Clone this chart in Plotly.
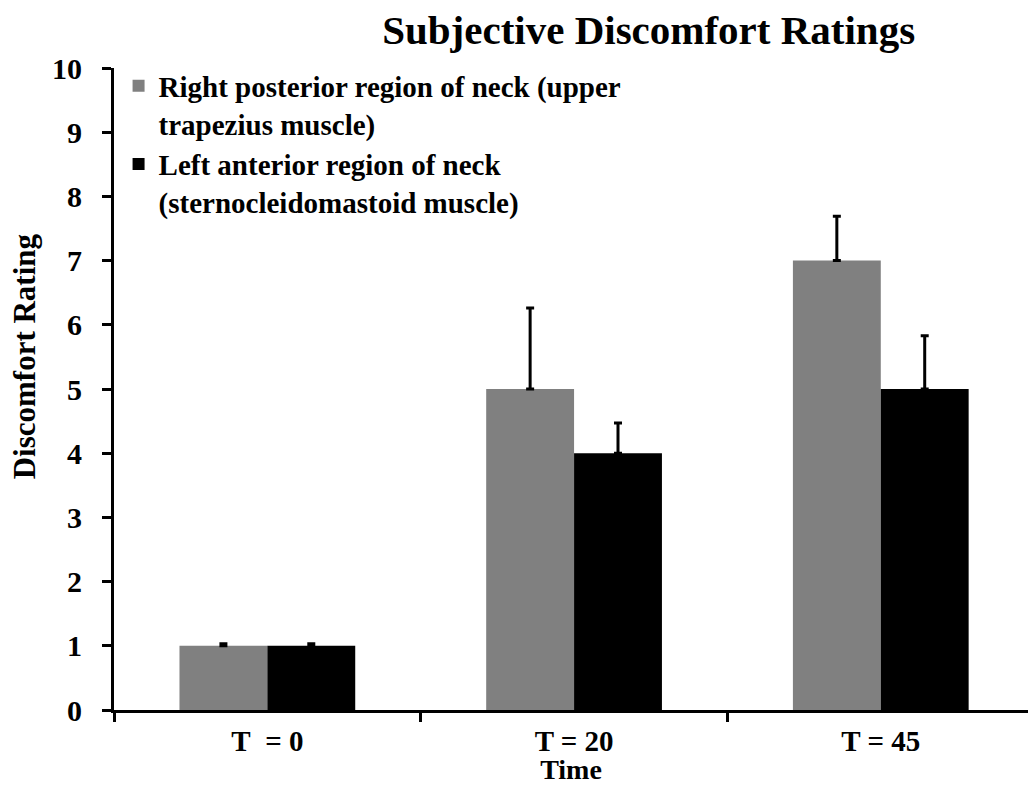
import plotly.graph_objects as go

categories = ["T\u00a0 = 0", "T = 20", "T = 45"]
series_names = [
    "Right posterior region of neck (upper<br>trapezius muscle)",
    "Left anterior region of neck<br>(sternocleidomastoid muscle)",
]
right_posterior = [1, 5, 7]
left_anterior = [1, 4, 5]
err_right = [0.03, 1.26, 0.69]
err_left = [0.03, 0.47, 0.83]

FONT = "Liberation Serif, Times New Roman, serif"

fig = go.Figure()
for name, vals, errs, color in [
    (series_names[0], right_posterior, err_right, "#808080"),
    (series_names[1], left_anterior, err_left, "#000000"),
]:
    fig.add_trace(go.Bar(
        x=categories, y=vals, name=name,
        marker=dict(color=color, line=dict(width=0)),
        error_y=dict(type="data", array=errs, arrayminus=[0] * len(errs),
                     symmetric=False, color="#000000", thickness=3, width=4),
    ))

fig.update_layout(
    width=1028, height=785,
    margin=dict(l=114, r=0, t=68, b=75),
    paper_bgcolor="white", plot_bgcolor="white",
    barmode="group", bargap=0.427, bargroupgap=0,
    font=dict(family=FONT, size=30, color="black", weight=700),
    title=dict(text="Subjective Discomfort Ratings", x=0.631, xanchor="center",
               y=1 - 30 / 785, yanchor="middle",
               font=dict(family=FONT, size=41, weight=700, color="black")),
    legend=dict(x=0.005, y=1.012, xanchor="left", yanchor="top", valign="top",
                bgcolor="rgba(0,0,0,0)", tracegroupgap=0,
                font=dict(family=FONT, size=29, weight=700, color="black")),
    showlegend=True,
    annotations=[dict(
        text="Discomfort Rating", textangle=-90, showarrow=False,
        xref="paper", yref="paper", x=-0.0984, y=0.551,
        xanchor="center", yanchor="middle",
        font=dict(family=FONT, size=31, weight=700, color="black"),
    )],
)
fig.update_xaxes(
    range=[-0.5, 2.48], showline=True, linecolor="black", linewidth=3,
    ticks="outside", tickson="boundaries", ticklen=9, tickwidth=3, tickcolor="black",
    showgrid=False, zeroline=False, ticklabelstandoff=3,
    tickfont=dict(family=FONT, size=29, weight=700),
    title=dict(text="Time", standoff=7, font=dict(family=FONT, size=28, weight=700)),
)
fig.update_yaxes(
    range=[0, 10], dtick=1, showline=True, linecolor="black", linewidth=3,
    ticks="outside", ticklen=9, tickwidth=3, tickcolor="black",
    showgrid=False, zeroline=False, ticklabelstandoff=14,
    tickfont=dict(family=FONT, size=30, weight=700),
)

fig.write_html("out.html")
